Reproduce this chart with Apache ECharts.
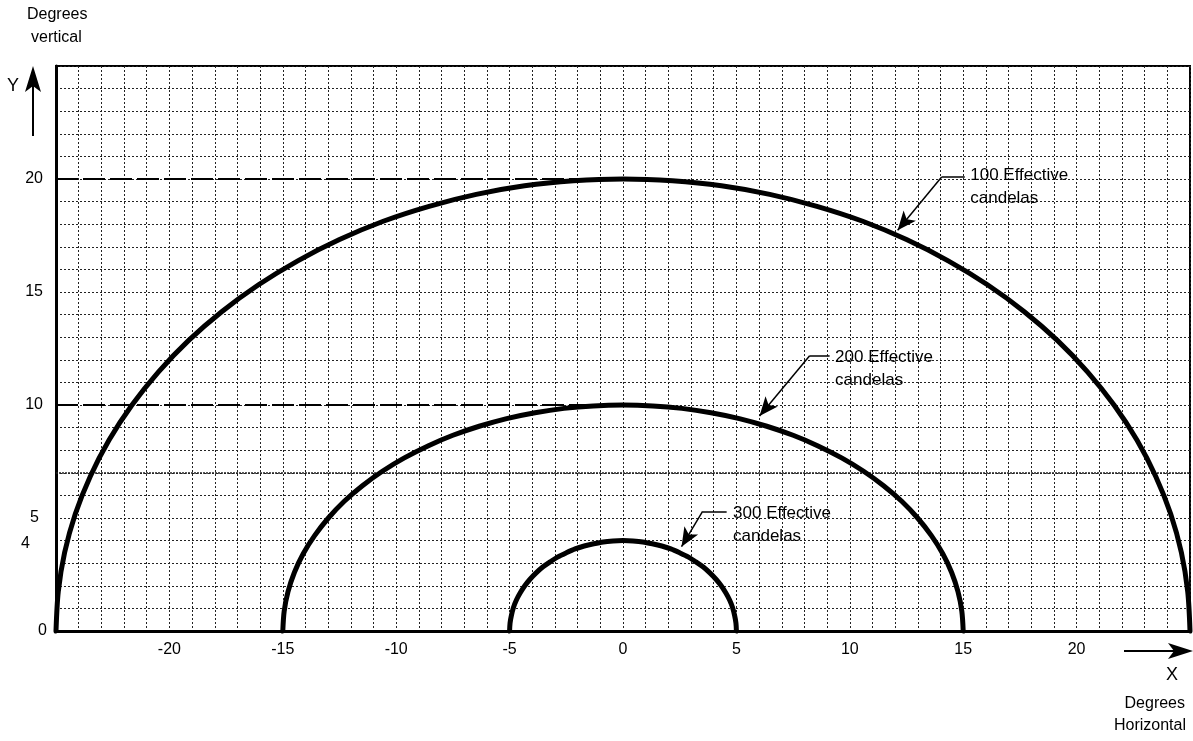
<!DOCTYPE html>
<html>
<head>
<meta charset="utf-8">
<script src="https://cdn.jsdelivr.net/npm/echarts@6/dist/echarts.min.js"></script>
<style>
html,body{margin:0;padding:0;background:#fff;}
#c{width:1193px;height:741px;}
</style>
</head>
<body>
<div id="c"></div>
<script>
// ---- data ----
const xTickLabels = [-20, -15, -10, -5, 0, 5, 10, 15, 20];
const yTickLabels = [0, 4, 5, 10, 15, 20];
const curveNames = ['100 Effective candelas', '200 Effective candelas', '300 Effective candelas'];
const curve100 = [[-25,0],[-24.9,1.74],[-24.62,3.47],[-24.15,5.18],[-23.49,6.84],[-22.66,8.45],[-21.65,10],[-20.48,11.47],[-19.15,12.86],[-17.68,14.14],[-16.07,15.32],[-14.34,16.38],[-12.5,17.32],[-10.57,18.13],[-8.55,18.79],[-6.47,19.32],[-4.34,19.7],[-2.18,19.92],[0,20],
  [2.18,19.92],[4.34,19.7],[6.47,19.32],[8.55,18.79],[10.57,18.13],[12.5,17.32],[14.34,16.38],[16.07,15.32],[17.68,14.14],[19.15,12.86],[20.48,11.47],[21.65,10],[22.66,8.45],[23.49,6.84],[24.15,5.18],[24.62,3.47],[24.9,1.74],[25,0]];
const curve200 = [[-15,0],[-14.94,0.87],[-14.77,1.74],[-14.49,2.59],[-14.1,3.42],[-13.59,4.23],[-12.99,5],[-12.29,5.74],[-11.49,6.43],[-10.61,7.07],[-9.64,7.66],[-8.6,8.19],[-7.5,8.66],[-6.34,9.06],[-5.13,9.4],[-3.88,9.66],[-2.6,9.85],[-1.31,9.96],[0,10],
  [1.31,9.96],[2.6,9.85],[3.88,9.66],[5.13,9.4],[6.34,9.06],[7.5,8.66],[8.6,8.19],[9.64,7.66],[10.61,7.07],[11.49,6.43],[12.29,5.74],[12.99,5],[13.59,4.23],[14.1,3.42],[14.49,2.59],[14.77,1.74],[14.94,0.87],[15,0]];
const curve300 = [[-5,0],[-4.98,0.35],[-4.92,0.69],[-4.83,1.04],[-4.7,1.37],[-4.53,1.69],[-4.33,2],[-4.1,2.29],[-3.83,2.57],[-3.54,2.83],[-3.21,3.06],[-2.87,3.28],[-2.5,3.46],[-2.11,3.63],[-1.71,3.76],[-1.29,3.86],[-0.87,3.94],[-0.44,3.98],[0,4],
  [0.44,3.98],[0.87,3.94],[1.29,3.86],[1.71,3.76],[2.11,3.63],[2.5,3.46],[2.87,3.28],[3.21,3.06],[3.54,2.83],[3.83,2.57],[4.1,2.29],[4.33,2],[4.53,1.69],[4.7,1.37],[4.83,1.04],[4.92,0.69],[4.98,0.35],[5,0]];
const peakLevels = [20, 10, 4];
// annotation geometry in data units: label anchor, leader start, leader bend, arrow tip
const labelAnchors = [[15.29, 19.64], [9.33, 11.62], [4.83, 4.71]];
const leaderStarts = [[15.07, 20.09], [9.11, 12.18], [4.57, 5.29]];
const leaderBends = [[14.05, 20.09], [8.23, 12.18], [3.51, 5.29]];
const arrowTips = [[12.11, 17.73], [6.02, 9.51], [2.58, 3.73]];

const FONT = '"Liberation Sans", Arial, Helvetica, sans-serif';
const curves = [curve100, curve200, curve300];

const chart = echarts.init(document.getElementById('c'), null, {renderer: 'canvas'});

const series = curves.map((d, i) => ({
  name: curveNames[i],
  type: 'line',
  data: d,
  smooth: 0.3,
  symbol: 'none',
  clip: false,
  lineStyle: {color: '#000', width: 5, cap: 'round', join: 'round'},
  z: 5,
  markLine: {
    silent: true,
    symbol: 'none',
    animation: false,
    label: {show: false},
    data: [
      [{coord: leaderStarts[i], symbol: 'none', lineStyle: {color: '#000', width: 1.5, type: 'solid'}},
       {coord: leaderBends[i], symbol: 'none'}],
      [{coord: leaderBends[i], symbol: 'none', lineStyle: {color: '#000', width: 1.5, type: 'solid'}},
       {coord: arrowTips[i], symbol: 'arrow', symbolSize: [12, 19]}],
      [{coord: peakLevels[i] === 4 ? [-25.53, peakLevels[i]] : [-25, peakLevels[i]], symbol: 'none',
        lineStyle: {color: '#000', width: 2, type: [22, 5]}},
       {coord: [0, peakLevels[i]], symbol: 'none'}]
    ]
  },
  markPoint: {
    silent: true,
    animation: false,
    data: [{
      coord: labelAnchors[i],
      symbol: 'circle',
      symbolSize: 1,
      itemStyle: {color: 'rgba(0,0,0,0)'},
      label: {
        show: true,
        position: 'right',
        distance: 0,
        formatter: curveNames[i].replace(' candelas', '\ncandelas'),
        color: '#000',
        fontFamily: FONT,
        fontSize: 17,
        lineHeight: 23,
        align: 'left'
      }
    }]
  }
}));

// small tick at y = 0 on the left, darker scan line near y = 7
series.push({
  type: 'line', data: [], symbol: 'none',
  markLine: {
    silent: true, symbol: 'none', animation: false, label: {show: false},
    data: [
      [{coord: [-25.4, 0], lineStyle: {color: '#000', width: 1.5, type: 'solid'}}, {coord: [-25, 0]}],
      [{coord: [-25, 7], lineStyle: {color: '#222', width: 1.5, type: [2, 1]}}, {coord: [25, 7]}]
    ]
  }
});

const yPad = {0: 0, 4: 17, 5: 8};

chart.setOption({
  animation: false,
  backgroundColor: '#fff',
  grid: {left: 56, top: 66, width: 1134, height: 565, show: true, borderColor: '#000', borderWidth: 2, containLabel: false},
  xAxis: {
    type: 'value', min: -25, max: 25, interval: 1,
    axisLine: {show: true, onZero: false, lineStyle: {color: '#000', width: 3}},
    axisTick: {show: false},
    splitLine: {show: true, lineStyle: {color: '#222', width: 1, type: [2, 2]}},
    axisLabel: {
      margin: 11, color: '#000', fontFamily: FONT, fontSize: 16,
      showMinLabel: true, showMaxLabel: true,
      formatter: v => xTickLabels.includes(Math.round(v)) && Math.abs(v - Math.round(v)) < 1e-6 ? String(Math.round(v)) : ''
    }
  },
  yAxis: {
    type: 'value', min: 0, max: 25, interval: 1,
    axisLine: {show: true, onZero: false, lineStyle: {color: '#000', width: 3}},
    axisTick: {show: false},
    splitLine: {show: true, lineStyle: {color: '#222', width: 1, type: [2, 2]}},
    axisLabel: {
      margin: 9, color: '#000', fontFamily: FONT, fontSize: 16,
      showMinLabel: true, showMaxLabel: true,
      formatter: v => {
        const r = Math.round(v);
        if (!yTickLabels.includes(r)) return '';
        const p = yPad[r] !== undefined ? yPad[r] : 4;
        return '{p' + p + '|' + r + '}';
      },
      rich: {
        p0: {padding: [0, 0, 0, 0], fontSize: 16, fontFamily: FONT, color: '#000'},
        p4: {padding: [0, 4, 0, 0], fontSize: 16, fontFamily: FONT, color: '#000'},
        p8: {padding: [0, 8, 0, 0], fontSize: 16, fontFamily: FONT, color: '#000'},
        p17: {padding: [6, 17, 0, 0], fontSize: 16, fontFamily: FONT, color: '#000'}
      }
    }
  },
  graphic: [
    {type: 'text', left: 27, top: 7, style: {text: 'Degrees', font: '16px ' + FONT, fill: '#000'}},
    {type: 'text', left: 31, top: 30, style: {text: 'vertical', font: '16px ' + FONT, fill: '#000'}},
    {type: 'text', left: 7, top: 77, style: {text: 'Y', font: '18px ' + FONT, fill: '#000'}},
    {type: 'line', shape: {x1: 33, y1: 136, x2: 33, y2: 80}, style: {stroke: '#000', lineWidth: 2}},
    {type: 'polygon', shape: {points: [[33, 66], [41, 92], [33, 86], [25, 92]]}, style: {fill: '#000'}},
    {type: 'line', shape: {x1: 1124, y1: 651, x2: 1180, y2: 651}, style: {stroke: '#000', lineWidth: 2}},
    {type: 'polygon', shape: {points: [[1193, 651], [1168, 643], [1174, 651], [1168, 659]]}, style: {fill: '#000'}},
    {type: 'text', left: 1166, top: 666, style: {text: 'X', font: '18px ' + FONT, fill: '#000'}},
    {type: 'text', right: 8, top: 696, style: {text: 'Degrees', font: '16px ' + FONT, fill: '#000', textAlign: 'right'}},
    {type: 'text', right: 7, top: 718, style: {text: 'Horizontal', font: '16px ' + FONT, fill: '#000', textAlign: 'right'}}
  ],
  series: series
});
</script>
</body>
</html>
